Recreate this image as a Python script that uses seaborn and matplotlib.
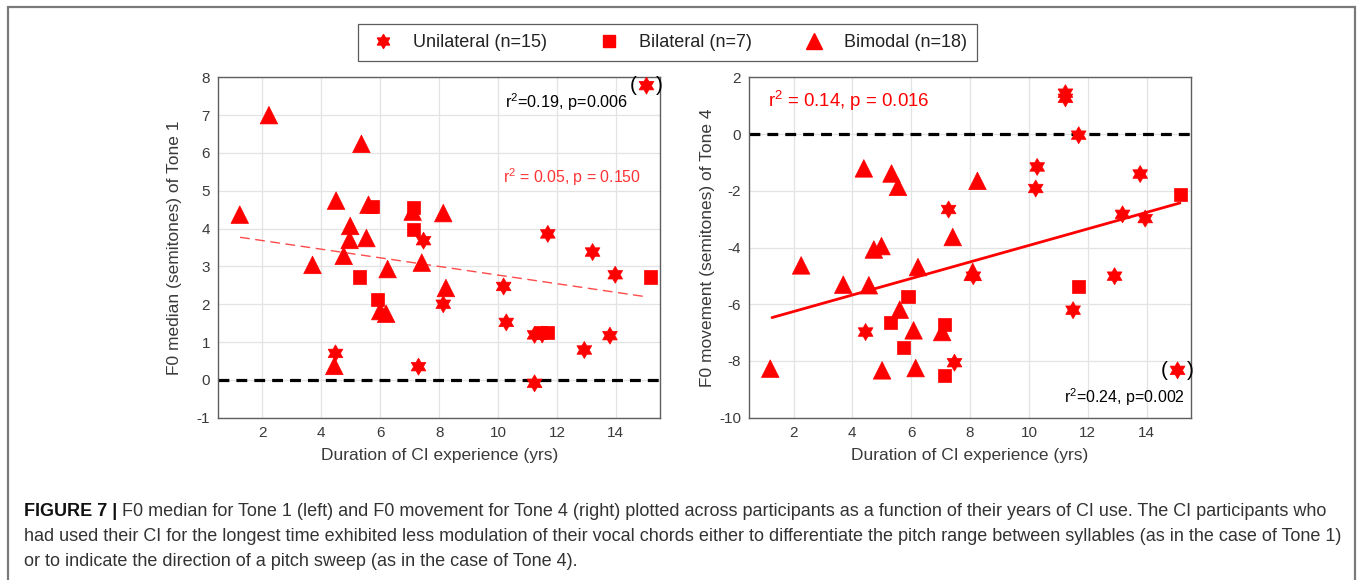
import numpy as np
import pandas as pd
import matplotlib
matplotlib.use("Agg")
import matplotlib.pyplot as plt
from matplotlib.lines import Line2D
from matplotlib.patches import Rectangle
from matplotlib.path import Path
import seaborn as sns

# ---- data: years of CI use vs. F0 measures ----
groups = ["Unilateral", "Bilateral", "Bimodal"]
group_labels = ["Unilateral (n=15)", "Bilateral (n=7)", "Bimodal (n=18)"]

# Tone 1: F0 median (semitones)
uni_x1 = [4.48, 7.30, 7.47, 8.14, 10.19, 10.28, 11.24, 11.50, 11.24, 11.69, 12.93, 13.21, 13.80, 13.98, 15.04]
uni_y1 = [0.70, 0.35, 3.68, 2.00, 2.47, 1.52, 1.19, 1.20, -0.09, 3.86, 0.79, 3.38, 1.17, 2.78, 7.78]
bil_x1 = [5.30, 5.75, 5.91, 7.13, 7.13, 11.45, 11.69, 15.18]
bil_y1 = [2.72, 4.58, 2.13, 4.55, 3.97, 1.25, 1.25, 2.72]
bim_x1 = [1.23, 2.22, 3.70, 4.44, 4.50, 4.76, 4.96, 4.98, 5.36, 5.53, 5.60, 6.00, 6.20, 6.25, 7.10, 7.41, 8.14, 8.23]
bim_y1 = [4.37, 7.00, 3.04, 0.37, 4.74, 3.28, 3.70, 4.07, 6.24, 3.75, 4.63, 1.82, 1.75, 2.93, 4.45, 3.10, 4.41, 2.43]

# Tone 4: F0 movement (semitones)
uni_x4 = [4.45, 7.27, 7.47, 8.11, 10.23, 10.28, 11.24, 11.24, 11.50, 11.69, 12.91, 13.18, 13.78, 13.95, 15.05]
uni_y4 = [-6.98, -2.66, -8.06, -5.01, -1.92, -1.16, 1.44, 1.26, -6.21, -0.04, -5.01, -2.83, -1.41, -2.98, -8.33]
bil_x4 = [5.29, 5.75, 5.89, 7.13, 7.14, 11.69, 15.16]
bil_y4 = [-6.63, -7.53, -5.72, -6.71, -8.51, -5.37, -2.12]
bim_x4 = [1.21, 2.26, 3.69, 4.39, 4.56, 4.73, 4.99, 5.01, 5.33, 5.55, 5.61, 6.08, 6.15, 6.23, 7.05, 7.41, 8.09, 8.25]
bim_y4 = [-8.27, -4.63, -5.31, -1.21, -5.33, -4.07, -3.95, -8.33, -1.39, -1.86, -6.19, -6.92, -8.25, -4.69, -6.98, -3.63, -4.86, -1.65]

# regression line end points
fit1_x = [1.24, 15.10]
fit1_y = [3.77, 2.19]
fit4_x = [1.27, 15.13]
fit4_y = [-6.47, -2.43]

# outlier shown in parentheses (excluded from the fit)
out1 = (15.04, 7.78)
out4 = (15.05, -8.33)

x_ticks = [2, 4, 6, 8, 10, 12, 14]
y_ticks1 = [-1, 0, 1, 2, 3, 4, 5, 6, 7, 8]
y_ticks4 = [-10, -8, -6, -4, -2, 0, 2]

caption_bold = "FIGURE 7 |"
caption_lines = [
    " F0 median for Tone 1 (left) and F0 movement for Tone 4 (right) plotted across participants as a function of their years of CI use. The CI participants who",
    "had used their CI for the longest time exhibited less modulation of their vocal chords either to differentiate the pitch range between syllables (as in the case of Tone 1)",
    "or to indicate the direction of a pitch sweep (as in the case of Tone 4).",
]

# ---- style ----
sns.set_theme(style="white")
plt.rcParams["font.family"] = ["Liberation Sans", "DejaVu Sans"]
plt.rcParams["mathtext.fontset"] = "custom"
plt.rcParams["mathtext.rm"] = "Liberation Sans"
plt.rcParams["axes.unicode_minus"] = False

RED = "#ff0000"
hexagram = Path.unit_regular_star(6, innerCircle=0.58)
markers = {"Unilateral": hexagram, "Bilateral": "s", "Bimodal": "^"}
sizes = {"Unilateral": 150, "Bilateral": 90, "Bimodal": 160}


def frame(xs, ys):
    parts = []
    order = [("Bimodal", 2), ("Bilateral", 1), ("Unilateral", 0)]
    for g, i in order:
        parts.append(pd.DataFrame({"years": xs[i], "f0": ys[i], "group": g}))
    return pd.concat(parts, ignore_index=True)


df1 = frame([uni_x1, bil_x1, bim_x1], [uni_y1, bil_y1, bim_y1])
df4 = frame([uni_x4, bil_x4, bim_x4], [uni_y4, bil_y4, bim_y4])

fig = plt.figure(figsize=(13.6, 5.8), dpi=100)
ax1 = fig.add_axes([0.1605, 0.2798, 0.3248, 0.5869])
ax4 = fig.add_axes([0.5510, 0.2798, 0.3246, 0.5869])


def style_axes(ax, yticks, ylim, ylabel, ypad):
    ax.set_xlim(0.5, 15.5)
    ax.set_ylim(*ylim)
    ax.set_xticks(x_ticks)
    ax.set_yticks(yticks)
    ax.grid(True, color="#e3e3e3", linewidth=0.9)
    ax.set_axisbelow(True)
    for s in ax.spines.values():
        s.set_color("#5e5e5e")
        s.set_linewidth(1.0)
    ax.tick_params(direction="in", length=4, width=0.8, colors="#5e5e5e",
                   labelcolor="#3a3a3a", labelsize=11, pad=6)
    ax.set_xlabel("Duration of CI experience (yrs)", fontsize=12.5, color="#3a3a3a", labelpad=6)
    ax.set_ylabel(ylabel, fontsize=12.5, color="#3a3a3a", labelpad=ypad)


for ax, df in [(ax1, df1), (ax4, df4)]:
    ax.axhline(0, color="black", linestyle=(0, (3.4, 2.2)), linewidth=2.3, zorder=2)
    sns.scatterplot(data=df, x="years", y="f0", style="group", markers=markers,
                    size="group", sizes=sizes, color=RED, edgecolor=RED,
                    linewidth=0.5, legend=False, ax=ax, zorder=3)

sns.lineplot(x=fit1_x, y=fit1_y, ax=ax1, color="#ff4a4a", linewidth=1.0,
             linestyle=(0, (7, 4)), zorder=2)
sns.lineplot(x=fit4_x, y=fit4_y, ax=ax4, color=RED, linewidth=2.0, zorder=2)

style_axes(ax1, y_ticks1, (-1, 8), "F0 median (semitones) of Tone 1", 10.5)
style_axes(ax4, y_ticks4, (-10, 2), "F0 movement (semitones) of Tone 4", 2.8)

# statistics annotations
ax1.text(10.22, 7.35, r"$\mathregular{r^2}$=0.19, p=0.006", fontsize=11.7, color="black", va="center")
ax1.text(10.16, 5.37, r"$\mathregular{r^2}$ = 0.05, p = 0.150", fontsize=11.4, color="#ff3333", va="center")
ax4.text(1.14, 1.16, r"$\mathregular{r^2}$ = 0.14, p = 0.016", fontsize=13.4, color=RED, va="center")
ax4.text(11.19, -9.28, r"$\mathregular{r^2}$=0.24, p=0.002", fontsize=11.5, color="black", va="center")

# parentheses around excluded outliers
for ax, (ox, oy) in [(ax1, out1), (ax4, out4)]:
    ax.text(ox - 0.45, oy, "(", fontsize=15, ha="center", va="center", color="black", clip_on=False)
    ax.text(ox + 0.45, oy, ")", fontsize=15, ha="center", va="center", color="black", clip_on=False)

# legend
handles = [Line2D([], [], linestyle="none", marker=markers[g], color=RED,
                  markersize=ms, markeredgecolor=RED)
           for g, ms in zip(groups, [10, 9, 12])]
leg = fig.legend(handles, group_labels, loc="center", bbox_to_anchor=(0.491, 0.927),
                 ncol=3, frameon=True, fancybox=False, fontsize=13,
                 columnspacing=2.6, handletextpad=0.9, borderpad=0.55,
                 handlelength=1.6)
leg.get_frame().set_edgecolor("#333333")
leg.get_frame().set_linewidth(0.9)
for t in leg.get_texts():
    t.set_color("#222222")

# outer panel border
fig.patches.append(Rectangle((8 / 1360, -0.05), (1355 - 8) / 1360, 1.05 - 7 / 580,
                             transform=fig.transFigure, fill=False,
                             edgecolor="#7a7a7a", linewidth=1.6, zorder=0))

# caption
cap_fs = 13
y_lines = [1 - 511.5 / 580, 1 - 536.5 / 580, 1 - 561.5 / 580]
x0 = 24 / 1360
tb = fig.text(x0, y_lines[0], caption_bold, fontsize=cap_fs, fontweight="bold",
              color="#111111", va="center")
fig.canvas.draw()
bb = tb.get_window_extent(renderer=fig.canvas.get_renderer())
x_after = bb.x1 / fig.bbox.width
fig.text(x_after, y_lines[0], caption_lines[0], fontsize=cap_fs, color="#333333", va="center")
fig.text(x0, y_lines[1], caption_lines[1], fontsize=cap_fs, color="#333333", va="center")
fig.text(x0, y_lines[2], caption_lines[2], fontsize=cap_fs, color="#333333", va="center")

fig.savefig("out.png", dpi=100)
